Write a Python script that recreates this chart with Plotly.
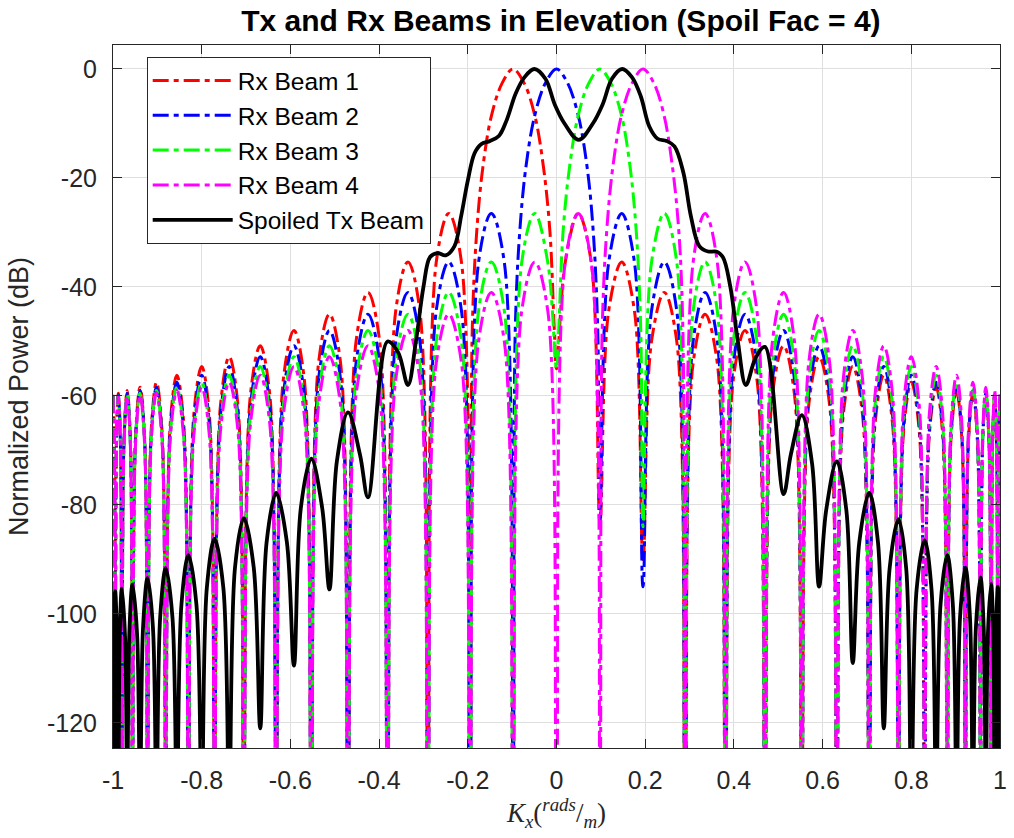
import plotly.graph_objects as go

# ---------------- data ----------------
# Kx positions of the nulls shared by the four Rx beams
null_x = [-0.995, -0.98, -0.956, -0.922, -0.881, -0.83, -0.771, -0.705, -0.632, -0.553,
          -0.47, -0.381, -0.29, -0.195, -0.098, 0.0, 0.098, 0.195, 0.29, 0.381,
          0.47, 0.553, 0.632, 0.705, 0.771, 0.83, 0.881, 0.922, 0.956, 0.98, 0.995]
# Kx positions of the lobe tops (one per interval between nulls, edges included)
lobe_x = [-1.0, -0.988, -0.968, -0.939, -0.902, -0.856, -0.80, -0.738, -0.668, -0.592,
          -0.512, -0.425, -0.335, -0.243, -0.147, -0.049, 0.049, 0.147, 0.243, 0.335,
          0.425, 0.512, 0.592, 0.668, 0.738, 0.80, 0.856, 0.902, 0.939, 0.968, 0.988, 1.0]

F = -132.0  # nulls that fall below the bottom of the axes

# sidelobe tops (dB); None = interval covered by the beam's main lobe
rx1_lobe_db = [-59.8, -59.5, -59.0, -58.4, -57.5, -56.2, -54.6, -52.8, -50.8, -48.0,
               -45.0, -41.0, -35.4, -26.5, None, None, -26.5, -35.4, -41.0, -45.0,
               -48.0, -50.8, -52.8, -54.6, -56.2, -57.5, -58.4, -59.0, -59.5, -59.8,
               -60.0, -60.1]
rx2_lobe_db = [-60.0, -59.8, -59.5, -59.0, -58.4, -57.5, -56.2, -54.6, -52.8, -50.8,
               -48.0, -45.0, -41.0, -35.4, -26.5, None, None, -26.5, -35.4, -41.0,
               -45.0, -48.0, -50.8, -52.8, -54.6, -56.2, -57.5, -58.4, -59.0, -59.5,
               -59.8, -60.0]
rx3_lobe_db = [-60.1, -60.0, -59.8, -59.5, -59.0, -58.4, -57.5, -56.2, -54.6, -52.8,
               -50.8, -48.0, -45.0, -41.0, -35.4, -26.5, None, None, -26.5, -35.4,
               -41.0, -45.0, -48.0, -50.8, -52.8, -54.6, -56.2, -57.5, -58.4, -59.0,
               -59.5, -59.8]
rx4_lobe_db = [-60.2, -60.1, -60.0, -59.8, -59.5, -59.0, -58.4, -57.5, -56.2, -54.6,
               -52.8, -50.8, -48.0, -45.0, -41.0, -35.4, -26.5, None, None, -26.5,
               -35.4, -41.0, -45.0, -48.0, -50.8, -52.8, -54.6, -56.2, -57.5, -58.4,
               -59.0, -59.5]

# null depths (dB); None = beam centre (no null there)
rx1_null_db = [F, F, F, F, F, F, F, F, F, F, F, F, F, F, None, -55.0, -83.0, -90.0, F, F,
               F, F, F, F, F, F, F, F, F, F, F]
rx2_null_db = [F, F, F, F, F, F, F, F, F, F, F, F, F, F, F, None, -83.0, -95.0, F, F,
               F, F, F, F, F, F, F, F, F, F, F]
rx3_null_db = [F, F, F, F, F, F, F, F, F, F, F, F, F, F, F, -55.0, None, -84.0, F, F,
               F, F, F, F, F, F, F, F, F, F, F]
rx4_null_db = [F, F, F, F, F, F, F, F, F, F, F, F, F, F, F, F, F, None, F, F,
               F, F, F, F, F, F, F, F, F, F, F]

# main lobes (Kx, dB)
rx1_main_x = [-0.190, -0.180, -0.166, -0.1465, -0.122, -0.098, -0.0735, -0.049, -0.0294, -0.0147, -0.0049]
rx2_main_x = [-0.093, -0.083, -0.069, -0.049, -0.0245, 0.0, 0.0245, 0.049, 0.069, 0.083, 0.093]
rx3_main_x = [0.0049, 0.0147, 0.0294, 0.049, 0.0735, 0.098, 0.122, 0.1465, 0.166, 0.180, 0.190]
rx4_main_x = [0.103, 0.113, 0.127, 0.1465, 0.171, 0.195, 0.219, 0.2425, 0.2615, 0.276, 0.285]
main_db = [-48.0, -30.0, -18.0, -8.5, -2.5, 0.0, -2.5, -8.5, -18.0, -30.0, -48.0]

# spoiled Tx beam: central part (Kx, dB)
tx_mid_x = [-0.381, -0.357, -0.335, -0.317, -0.30, -0.285, -0.268, -0.25, -0.23, -0.215,
            -0.20, -0.185, -0.17, -0.15, -0.13, -0.112, -0.092, -0.072, -0.05, -0.025,
            -0.004, 0.018, 0.05, 0.082, 0.104, 0.125, 0.148, 0.17, 0.19, 0.209,
            0.228, 0.248, 0.266, 0.286, 0.303, 0.322, 0.342, 0.36, 0.375, 0.392,
            0.409, 0.427, 0.449, 0.47]
tx_mid_db = [-50.0, -52.0, -58.0, -50.0, -40.0, -34.5, -33.8, -34.2, -32.5, -27.0,
             -20.5, -15.5, -13.8, -13.2, -12.3, -9.3, -4.5, -1.5, 0.0, -1.8,
             -6.5, -10.0, -13.0, -10.0, -6.5, -1.8, 0.0, -1.5, -5.0, -10.5,
             -12.8, -13.2, -14.2, -19.0, -27.0, -32.5, -33.5, -33.5, -34.5, -40.0,
             -50.0, -58.0, -53.0, -51.0]
# spoiled Tx beam: outer lobes, listed from the centre outwards (tops at the Rx nulls)
tx_left_x = [-0.425, -0.47, -0.512, -0.553, -0.592, -0.632, -0.668, -0.705, -0.738, -0.771,
             -0.80, -0.83, -0.856, -0.881, -0.902, -0.922, -0.939, -0.956, -0.968, -0.98,
             -0.988, -0.995, -0.9975, -1.0]
tx_left_db = [-78.6, -63.0, -95.5, -71.5, -109.5, -77.8, -121.0, -82.4, -135.0, -86.2,
              -135.0, -89.2, -135.0, -91.6, -135.0, -93.4, -135.0, -94.6, -135.0, -95.3,
              -135.0, -95.8, -135.0, -96.0]
tx_right_x = [0.512, 0.553, 0.592, 0.632, 0.668, 0.705, 0.738, 0.771, 0.80, 0.83,
              0.856, 0.881, 0.902, 0.922, 0.939, 0.956, 0.968, 0.98, 0.988, 0.995,
              0.9975, 1.0]
tx_right_db = [-78.0, -63.5, -95.0, -72.0, -109.0, -77.8, -121.0, -82.6, -135.0, -86.5,
               -135.0, -89.2, -135.0, -91.5, -135.0, -93.3, -135.0, -94.5, -135.0, -95.0,
               -135.0, -95.2]

x_ticks = [-1, -0.8, -0.6, -0.4, -0.2, 0, 0.2, 0.4, 0.6, 0.8, 1]
x_tick_text = ["-1", "-0.8", "-0.6", "-0.4", "-0.2", "0", "0.2", "0.4", "0.6", "0.8", "1"]
y_ticks = [-120, -100, -80, -60, -40, -20, 0]
y_tick_text = ["-120", "-100", "-80", "-60", "-40", "-20", "0"]

# lobe drawing style: each lobe keeps close to its top until near its nulls
SH_POS = 0.4   # shoulder position, as a share of the half-lobe width from the null
SH_DROP = 9.0  # level of the shoulder below the lobe top (dB)


def add_lobe(xs, ys, xl, yl, xp, yp, xr, yr):
    """append a lobe top (xp, yp) lying between two nulls (xl, yl) and (xr, yr)."""
    if xl is not None:
        xs.append(xl + SH_POS * (xp - xl))
        ys.append(max(yp - SH_DROP, 0.5 * (yp + yl)))
    xs.append(xp)
    ys.append(yp)
    if xr is not None:
        xs.append(xr - SH_POS * (xr - xp))
        ys.append(max(yp - SH_DROP, 0.5 * (yp + yr)))


def build_rx(lobe_db, null_db, main_x):
    xs, ys = [], []
    done = False
    n = len(null_x)
    for j in range(len(lobe_x)):
        if lobe_db[j] is None:
            if not done:
                xs += main_x
                ys += main_db
                done = True
        else:
            xl = null_x[j - 1] if j > 0 else None
            yl = null_db[j - 1] if j > 0 else None
            xr = null_x[j] if j < n else None
            yr = null_db[j] if j < n else None
            add_lobe(xs, ys, xl, yl, lobe_x[j], lobe_db[j], xr, yr)
        if j < n and null_db[j] is not None:
            xs.append(null_x[j])
            ys.append(null_db[j])
    return xs, ys


def build_outer(px, py):
    """alternating dip / top list going outwards; tops get shoulders."""
    xs, ys = [], []
    for i in range(len(px)):
        if i % 2 == 1:
            xl, yl = px[i - 1], py[i - 1]
            if i + 1 < len(px):
                xr, yr = px[i + 1], py[i + 1]
            else:
                xr, yr = None, None
            add_lobe(xs, ys, xl, yl, px[i], py[i], xr, yr)
        else:
            xs.append(px[i])
            ys.append(py[i])
    return xs, ys


dash = "16px,5px,5px,5px"
fig = go.Figure()
series = [
    ("Rx Beam 1", "#ff0000", rx1_lobe_db, rx1_null_db, rx1_main_x),
    ("Rx Beam 2", "#0000ff", rx2_lobe_db, rx2_null_db, rx2_main_x),
    ("Rx Beam 3", "#00ff00", rx3_lobe_db, rx3_null_db, rx3_main_x),
    ("Rx Beam 4", "#ff00ff", rx4_lobe_db, rx4_null_db, rx4_main_x),
]
for name, col, ldb, ndb, mx in series:
    xs, ys = build_rx(ldb, ndb, mx)
    fig.add_trace(go.Scatter(x=xs, y=ys, mode="lines", name=name, legendgroup=name,
                             line=dict(color=col, width=3, dash=dash, shape="spline", smoothing=1.0)))

lx, ly = build_outer(tx_left_x, tx_left_db)
rx_, ry_ = build_outer(tx_right_x, tx_right_db)
tx_all_x = lx[::-1] + tx_mid_x + rx_
tx_all_db = ly[::-1] + tx_mid_db + ry_
fig.add_trace(go.Scatter(x=tx_all_x, y=tx_all_db, mode="lines", name="Spoiled Tx Beam", legendgroup="tx",
                         line=dict(color="#000000", width=3.8, shape="spline", smoothing=1.0)))

axis_common = dict(showline=True, linecolor="#262626", linewidth=1, mirror="ticks",
                   ticks="inside", ticklen=9, tickcolor="#262626", showgrid=True,
                   gridcolor="#dfdfdf", gridwidth=1, zeroline=False,
                   tickfont=dict(family="Liberation Sans", size=25, color="#262626"))
fig.update_xaxes(range=[-1, 1], tickvals=x_ticks, ticktext=x_tick_text, ticklabelstandoff=10,
                 title=dict(text="<i>K<sub>x</sub></i>(<sup><i>rads</i></sup>/<sub><i>m</i></sub>)",
                            font=dict(family="Liberation Serif", size=27, color="#262626"), standoff=8),
                 **axis_common)
fig.update_yaxes(range=[-124.6, 4.4], tickvals=y_ticks, ticktext=y_tick_text, ticklabelstandoff=10,
                 title=dict(text="Normalized Power (dB)",
                            font=dict(family="Liberation Sans", size=27, color="#262626"), standoff=10),
                 **axis_common)
fig.update_layout(
    width=1014, height=838,
    margin=dict(l=113, r=7, t=45, b=90),
    paper_bgcolor="white", plot_bgcolor="white",
    title=dict(text="<b>Tx and Rx Beams in Elevation (Spoil Fac = 4)</b>", x=0.505, xref="paper",
               xanchor="center", y=0.976, yanchor="middle",
               font=dict(family="Liberation Sans", size=30, color="#000000")),
    legend=dict(x=0.038, y=0.983, xanchor="left", yanchor="top", bgcolor="white",
                bordercolor="#262626", borderwidth=1, traceorder="grouped", tracegroupgap=0,
                itemwidth=80, font=dict(family="Liberation Sans", size=24.5, color="#000000")),
)
fig.write_html("out.html")
